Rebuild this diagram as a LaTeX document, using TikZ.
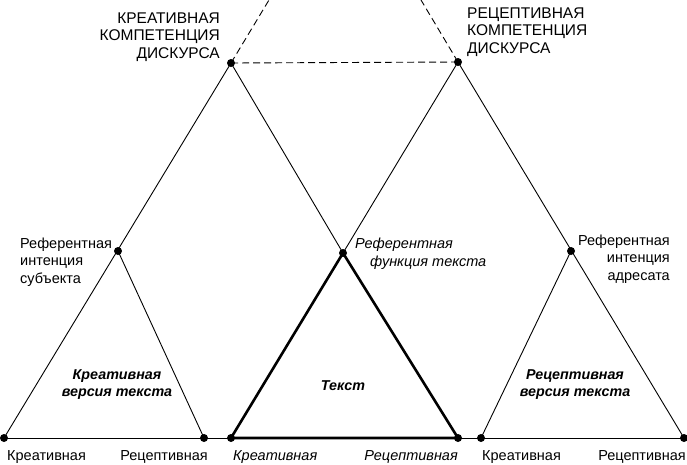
\documentclass[tikz,border=0pt]{standalone}
\usepackage{fontspec}
\setmainfont{Liberation Sans}
\begin{document}
\begin{tikzpicture}[x=1pt,y=-1pt,
  thinline/.style={line width=0.9pt},
  thickline/.style={line width=2.6pt, line join=round},
  dashline/.style={line width=0.9pt, dash pattern=on 7pt off 4pt},
  lbl/.style={font=\fontsize{14.5}{17.5}\selectfont, inner sep=0pt},
  ilbl/.style={font=\fontsize{14.5}{18}\selectfont\itshape, inner sep=0pt},
  blbl/.style={font=\fontsize{14.3}{16.5}\selectfont\bfseries\itshape, inner sep=0pt, align=center},
  caps/.style={font=\fontsize{15.5}{17.5}\selectfont, inner sep=0pt}]
\useasboundingbox (0,0) rectangle (687,464);
% points
\coordinate (A) at (231,63);
\coordinate (B) at (458,62);
\coordinate (L) at (118,251);
\coordinate (C) at (343,253);
\coordinate (R) at (571,251);
\coordinate (b1) at (4,438);
\coordinate (b2) at (204,438);
\coordinate (b3) at (231,438);
\coordinate (b4) at (458,438);
\coordinate (b5) at (481,438);
\coordinate (b6) at (684,438);
\coordinate (tA) at (269,0);
\coordinate (tB) at (421,0);
% thin lines
\draw[thinline] (b1) -- (A) -- (C);
\draw[thinline] (B) -- (C);
\draw[thinline] (B) -- (b6);
\draw[thinline] (L) -- (b2);
\draw[thinline] (R) -- (b5);
\draw[thinline] (b1) -- (b6);
% dashed
\draw[dashline] (A) -- (tA);
\draw[dashline] (B) -- (tB);
\draw[dashline] (A) -- (B);
% thick triangle
\draw[thickline] (b3) -- (C) -- (b4) -- cycle;
% dots
\foreach \p in {A,B,L,C,R,b1,b2,b3,b4,b5,b6} \fill (\p) circle (4pt);
% labels (base anchor = baseline of last line)
\node[caps, anchor=base east, align=right] (capL) at (220,58) {КРЕАТИВНАЯ\\КОМПЕТЕНЦИЯ\\ДИСКУРСА};
\node[caps, anchor=base west, align=left] (capR) at (467,53) {РЕЦЕПТИВНАЯ\\КОМПЕТЕНЦИЯ\\ДИСКУРСА};
\node[lbl, anchor=base west, align=left] (refL) at (20,283) {Референтная\\интенция\\субъекта};
\node[ilbl, anchor=base west, align=left] (refC) at (355,266) {Референтная\\\hspace*{15pt}функция текста};
\node[lbl, anchor=base east, align=right] (refR) at (670,280) {Референтная\\интенция\\адресата};
\node[blbl, anchor=base] (verL) at (117,396) {Креативная\\версия текста};
\node[blbl, anchor=base] (txt) at (343,390) {Текст};
\node[blbl, anchor=base] (verR) at (575,396) {Рецептивная\\версия текста};
% bottom labels
\node[lbl, anchor=base west] (k1) at (7,460) {Креативная};
\node[lbl, anchor=base east] (r1) at (208,460) {Рецептивная};
\node[ilbl, anchor=base west] (k2) at (233,460) {Креативная};
\node[ilbl, anchor=base east] (r2) at (458,460) {Рецептивная};
\node[lbl, anchor=base west] (k3) at (482,460) {Креативная};
\node[lbl, anchor=base east] (r3) at (686,460) {Рецептивная};
\end{tikzpicture}
\end{document}
